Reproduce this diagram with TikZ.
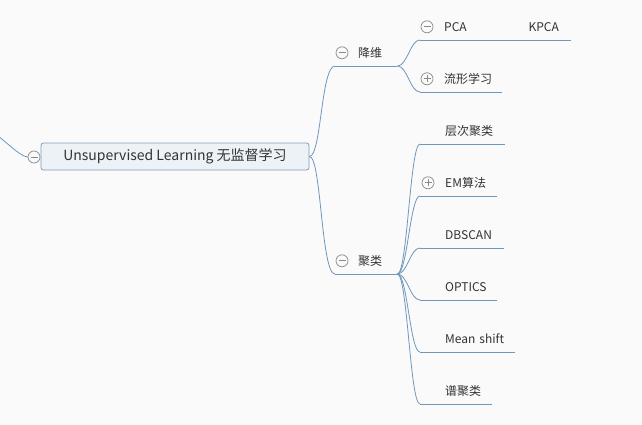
\documentclass[tikz,border=0pt]{standalone}
\usepackage{fontspec}
\setmainfont{Noto Sans CJK SC}
\usepackage{tikz}
\usetikzlibrary{positioning}

\definecolor{branchblue}{HTML}{6F97BC}
\definecolor{rootfill}{HTML}{EDF2F7}
\definecolor{rootedge}{HTML}{7C9DBC}
\definecolor{foldgrey}{HTML}{8A8A8A}
\definecolor{inkgrey}{HTML}{333333}
\definecolor{paper}{HTML}{FAFAFA}

\begin{document}
\begin{tikzpicture}[
  x=1pt, y=-1pt,
  font=\fontsize{12}{14}\selectfont, text=inkgrey,
  root/.style={draw=rootedge, fill=rootfill, line width=0.8pt, rounded corners=2.5pt,
    minimum width=268pt, minimum height=27pt, inner sep=0pt,
    font=\fontsize{14}{16}\selectfont},
  topic/.style 2 args={anchor=south west, inner sep=0pt, minimum height=26pt,
    text width=#1, align=left, execute at begin node={\hspace*{#2}}},
  branch/.style={draw=branchblue, line width=0.8pt},
  fold/.style={circle, draw=foldgrey, fill=paper, line width=0.7pt,
    minimum size=12pt, inner sep=0pt},
  minus/.style={fold, path picture={
    \draw[foldgrey, line width=0.7pt]
      ([xshift=-3.5pt]path picture bounding box.center) -- ([xshift=3.5pt]path picture bounding box.center);}},
  plus/.style={fold, path picture={
    \draw[foldgrey, line width=0.7pt]
      ([xshift=-3.5pt]path picture bounding box.center) -- ([xshift=3.5pt]path picture bounding box.center)
      ([yshift=-3.5pt]path picture bounding box.center) -- ([yshift=3.5pt]path picture bounding box.center);}}
]
\fill[paper] (0,0) rectangle (642,425);
\useasboundingbox (0,0) rectangle (642,425);

% root
\node[root] (root) at (175,156.5) {Unsupervised Learning 无监督学习};
\coordinate (up) at (-10,130);

% main branches
\node[topic={62pt}{23pt}] (jw) at (335,66) {降维};
\node[topic={62pt}{23pt}] (jl) at (335,274) {聚类};

% 降维
\node[topic={70pt}{24pt}] (pca) at (420,40) {PCA};
\node[topic={50pt}{8pt}, right=30pt of pca] (kpca) {KPCA};
\node[topic={82pt}{24pt}] (lx) at (420,92) {流形学习};

% 聚类
\node[topic={85pt}{25pt}] (cc) at (420,144) {层次聚类};
\node[topic={77pt}{25pt}] (em) at (420,196) {EM算法};
\node[topic={84pt}{25pt}] (db) at (420,248) {DBSCAN};
\node[topic={77pt}{25pt}] (op) at (420,300) {OPTICS};
\node[topic={95pt}{25pt}] (ms) at (420,352) {Mean shift};
\node[topic={72pt}{25pt}] (pj) at (420,404) {谱聚类};

\foreach \n in {jw,jl,pca,kpca,lx,cc,em,db,op,ms,pj}
  \draw[branch] (\n.south west) -- (\n.south east);

\draw[branch] (up) .. controls +(15,10) and +(-8,0) .. (28,157);
\draw[branch] (root.east) .. controls +(12,0) and +(-14,0) .. (jw.south west);
\draw[branch] (root.east) .. controls +(12,0) and +(-14,0) .. (jl.south west);
\foreach \n in {pca,lx}
  \draw[branch] (jw.south east) .. controls +(10,0) and +(-10,0) .. (\n.south west);
\draw[branch] (pca.south east) -- (kpca.south west);
\foreach \n in {cc,em,db,op,ms,pj}
  \draw[branch] (jl.south east) .. controls +(10,0) and +(-10,0) .. (\n.south west);

% fold markers
\node[minus] (f-root) at (34,157) {};
\node[minus] (f-jw) at ([xshift=7pt]jw.west) {};
\node[minus] (f-jl) at ([xshift=7pt]jl.west) {};
\node[minus] (f-pca) at ([xshift=7pt]pca.west) {};
\node[plus] (f-lx) at ([xshift=7pt]lx.west) {};
\node[plus] (f-em) at ([xshift=8pt]em.west) {};
\end{tikzpicture}
\end{document}
